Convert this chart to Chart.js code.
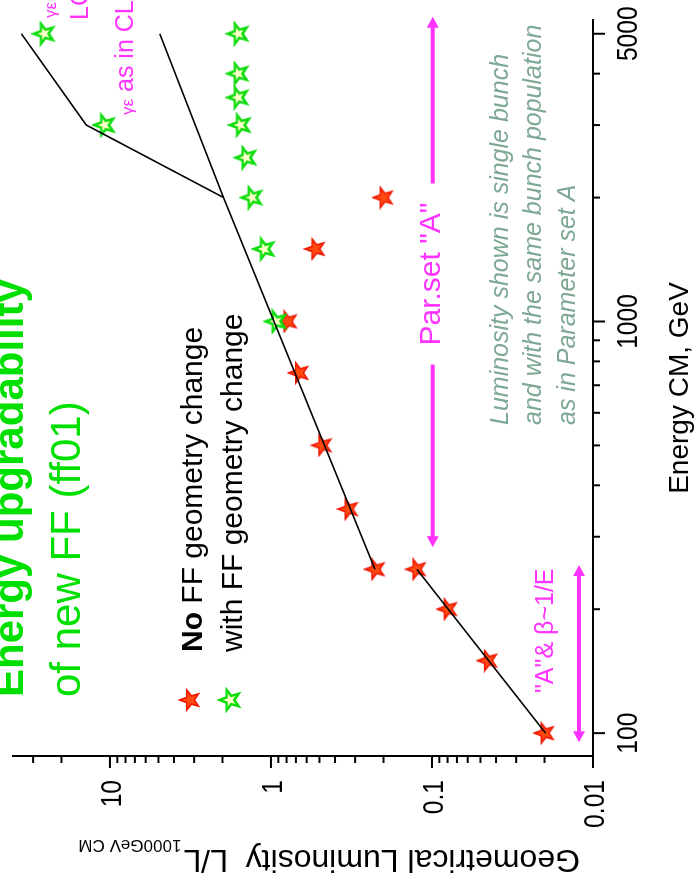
<!DOCTYPE html>
<html>
<head>
<meta charset="utf-8">
<script src="https://cdn.jsdelivr.net/npm/chart.js@4.4.1/dist/chart.umd.min.js"></script>
<style>
  html, body { margin: 0; padding: 0; background: #fff; overflow: hidden; width: 696px; height: 884px; }
  /* the plot is laid out landscape and turned a quarter turn counter-clockwise */
  #turn { position: absolute; left: 0; top: 0; width: 884px; height: 696px;
          transform-origin: 0 0; transform: translate(0, 884px) rotate(-90deg); }
  canvas { display: block; }
</style>
</head>
<body>
<div id="turn"><canvas id="c" width="884" height="696"></canvas></div>
<script>
// --- data: geometrical luminosity normalised to 1000 GeV CM ---
const energyNoFF   = [100, 150, 200, 250, 250, 350, 500, 750, 1000, 1500, 2000];
const lumNoFF      = [0.020, 0.045, 0.080, 0.125, 0.225, 0.33, 0.48, 0.67, 0.79, 0.53, 0.20];

const energyWithFF = [1000, 1500, 2000, 2500, 3000, 3500, 4000, 5000, 3000, 5000];
const lumWithFF    = [0.93, 1.10, 1.31, 1.43, 1.55, 1.60, 1.60, 1.60, 10.8, 25.6];

// scaling lines
const energyBetaScaling = [100, 250];
const lumBetaScaling    = [0.0197, 0.124];
const energyParSetA     = [250, 2000, 5000];
const lumParSetA        = [0.226, 1.97, 4.9];
const energyClicEmit    = [2000, 3000, 5000];
const lumClicEmit       = [1.97, 14.0, 35.5];

// energy ranges marked by the double arrows
const rangeBeta    = [95, 256];
const rangeParSetA = [283, 5500];

// axes
const energyTickLabels = [100, 1000, 5000];
const energyMinorTicks = [200, 300, 400, 500, 600, 700, 800, 900, 2000, 3000, 4000];
const lumTickValues    = [0.01, 0.1, 1, 10];
const lumTickLabels    = ['0.01', '0.1', '1', '10'];
const lumMinorTicks    = [0.02, 0.03, 0.04, 0.05, 0.06, 0.07, 0.08, 0.09,
                          0.2, 0.3, 0.4, 0.5, 0.6, 0.7, 0.8, 0.9,
                          2, 3, 4, 5, 6, 7, 8, 9, 20, 30];

const FONT = '"Liberation Sans", Arial, Helvetica, sans-serif';
const PINK = '#ff33ff';
const GREEN = '#00e000';
const NOTE = '#7fa894';

function pairs(xs, ys) { return xs.map((v, i) => ({ x: v, y: ys[i] })); }

function makeStar(size, fill, stroke, lw) {
  const c = document.createElement('canvas');
  c.width = size; c.height = size;
  const g = c.getContext('2d');
  const R = size / 2 - lw, r = R * 0.42, m = size / 2;
  g.beginPath();
  for (let i = 0; i < 10; i++) {
    const a = -Math.PI / 2 + i * Math.PI / 5;
    const rr = i % 2 ? r : R;
    g.lineTo(m + rr * Math.cos(a), m + rr * Math.sin(a));
  }
  g.closePath();
  g.fillStyle = fill; g.fill();
  g.lineWidth = lw; g.strokeStyle = stroke; g.lineJoin = 'miter'; g.stroke();
  return c;
}
const redStar = makeStar(24, '#ff4a10', '#ee1500', 1.6);
const greenStar = makeStar(26, '#ffffc8', '#10dd10', 2.6);

function narrowText(ctx, txt, px, py, align, font, sx) {
  ctx.save();
  ctx.translate(px, py);
  ctx.scale(sx, 1);
  ctx.font = font;
  ctx.textAlign = align;
  ctx.textBaseline = 'alphabetic';
  ctx.fillText(txt, 0, 0);
  ctx.restore();
}

function hArrow(ctx, x1, x2, yy, color) {
  const head = 10, half = 6;
  ctx.save();
  ctx.strokeStyle = color; ctx.fillStyle = color; ctx.lineWidth = 4;
  ctx.beginPath(); ctx.moveTo(x1 + head - 1, yy); ctx.lineTo(x2 - head + 1, yy); ctx.stroke();
  ctx.restore();
}
function arrowHead(ctx, xTip, yy, dir, color) {
  const head = 11, half = 6;
  ctx.save();
  ctx.fillStyle = color;
  ctx.beginPath();
  ctx.moveTo(xTip, yy);
  ctx.lineTo(xTip - dir * head, yy - half);
  ctx.lineTo(xTip - dir * head, yy + half);
  ctx.closePath(); ctx.fill();
  ctx.restore();
}

const decorations = {
  id: 'decorations',
  afterDraw(chart) {
    const { ctx, chartArea: a, scales: { x, y } } = chart;
    ctx.save();

    // tick marks
    ctx.strokeStyle = '#000'; ctx.lineWidth = 2;
    const tick = (x1, y1, x2, y2) => { ctx.beginPath(); ctx.moveTo(x1, y1); ctx.lineTo(x2, y2); ctx.stroke(); };
    energyTickLabels.forEach(v => { const p = x.getPixelForValue(v); tick(p, a.bottom, p, a.bottom + 12); });
    energyMinorTicks.forEach(v => { const p = x.getPixelForValue(v); tick(p, a.bottom, p, a.bottom + 7); });
    lumTickValues.forEach(v => { const p = y.getPixelForValue(v); tick(a.left, p, a.left - 12, p); });
    lumMinorTicks.forEach(v => { const p = y.getPixelForValue(v); tick(a.left, p, a.left - 7, p); });

    // tick labels (condensed)
    ctx.fillStyle = '#000';
    energyTickLabels.forEach(v => {
      narrowText(ctx, String(v), x.getPixelForValue(v), a.bottom + 44, 'center', '30px ' + FONT, 0.82);
    });
    lumTickValues.forEach((v, i) => {
      narrowText(ctx, lumTickLabels[i], a.left - 24, y.getPixelForValue(v) + 11, 'right', '30px ' + FONT, 0.82);
    });

    // axis titles
    ctx.fillStyle = '#000';
    ctx.font = '28px ' + FONT;
    ctx.textAlign = 'center';
    ctx.fillText('Energy CM, GeV', (a.left + a.right) / 2, 688);

    ctx.save();
    ctx.translate(34, 580);
    ctx.rotate(-Math.PI / 2);
    ctx.textAlign = 'left';
    ctx.font = '32px ' + FONT;
    const main = 'Geometrical Luminosity  L/L';
    ctx.fillText(main, 0, 0);
    const w = ctx.measureText(main).width;
    ctx.font = '17px ' + FONT;
    ctx.fillText('1000GeV CM', w + 2, 10);
    ctx.restore();

    // plot title
    ctx.fillStyle = GREEN;
    ctx.textAlign = 'left';
    ctx.font = 'bold 42px ' + FONT;
    ctx.fillText('Energy upgradability', 187, 23);
    ctx.font = '42px ' + FONT;
    ctx.fillText('of new FF (ff01)', 187, 80);

    // legend
    ctx.drawImage(redStar, 184 - redStar.width / 2, 190 - redStar.height / 2);
    ctx.drawImage(greenStar, 184 - greenStar.width / 2, 230 - greenStar.height / 2);
    ctx.fillStyle = '#000';
    ctx.font = 'bold 30px ' + FONT;
    ctx.fillText('No', 232, 202);
    const wNo = ctx.measureText('No').width;
    ctx.font = '30px ' + FONT;
    ctx.fillText(' FF geometry change', 232 + wNo, 202);
    ctx.fillText('with FF geometry change', 232, 242);

    // double arrows for the parameter regimes
    const yBeta = y.getPixelForValue(0.0122);
    const xb1 = x.getPixelForValue(rangeBeta[0]), xb2 = x.getPixelForValue(rangeBeta[1]);
    hArrow(ctx, xb1, xb2, yBeta, PINK);
    arrowHead(ctx, xb1, yBeta, -1, PINK); arrowHead(ctx, xb2, yBeta, 1, PINK);
    ctx.fillStyle = PINK; ctx.font = '25px ' + FONT; ctx.textAlign = 'left';
    ctx.fillText('"A"& \u03B2~1/E', 191, 553);

    const yPar = y.getPixelForValue(0.099);
    const xp1 = x.getPixelForValue(rangeParSetA[0]), xp2 = x.getPixelForValue(rangeParSetA[1]);
    ctx.font = '30px ' + FONT; ctx.textAlign = 'center';
    const parTxt = 'Par.set "A"';
    const parMid = 610, parHalf = ctx.measureText(parTxt).width / 2 + 20;
    hArrow(ctx, xp1, parMid - parHalf + 10, yPar, PINK);
    hArrow(ctx, parMid + parHalf - 10, xp2, yPar, PINK);
    arrowHead(ctx, xp1, yPar, -1, PINK); arrowHead(ctx, xp2, yPar, 1, PINK);
    ctx.fillText(parTxt, parMid, 440);

    // emittance notes
    ctx.textAlign = 'left';
    ctx.font = '17px ' + FONT;
    ctx.fillText('\u03B3\u03B5', 769, 133);
    let wg = ctx.measureText('\u03B3\u03B5').width;
    ctx.font = '25px ' + FONT;
    ctx.fillText(' as in CLIC', 769 + wg, 133);
    ctx.font = '17px ' + FONT;
    ctx.fillText('\u03B3\u03B5', 866, 56);
    ctx.font = '25px ' + FONT;
    ctx.fillText('LC', 864, 88);

    // note on the luminosity definition
    ctx.fillStyle = NOTE;
    ctx.font = 'italic 25px ' + FONT;
    ctx.fillText('Luminosity shown is single bunch', 459, 508);
    ctx.fillText('and with the same bunch population', 459, 541);
    ctx.fillText('as in Parameter set A', 459, 575);

    ctx.restore();
  }
};

const lineStyle = { showLine: true, pointRadius: 0, borderColor: '#000', borderWidth: 1.6, fill: false, tension: 0 };

new Chart(document.getElementById('c'), {
  type: 'scatter',
  data: {
    datasets: [
      Object.assign({ label: 'beta ~ 1/E', data: pairs(energyBetaScaling, lumBetaScaling) }, lineStyle),
      Object.assign({ label: 'Par.set A', data: pairs(energyParSetA, lumParSetA) }, lineStyle),
      Object.assign({ label: 'gamma eps as in CLIC', data: pairs(energyClicEmit, lumClicEmit) }, lineStyle),
      { label: 'with FF geometry change', data: pairs(energyWithFF, lumWithFF),
        pointStyle: greenStar, pointRadius: 12, showLine: false },
      { label: 'No FF geometry change', data: pairs(energyNoFF, lumNoFF),
        pointStyle: redStar, pointRadius: 12, showLine: false }
    ]
  },
  options: {
    responsive: false,
    animation: false,
    events: [],
    layout: { padding: { top: 10, right: 20, left: 0, bottom: 0 } },
    plugins: { legend: { display: false }, tooltip: { enabled: false } },
    scales: {
      x: {
        type: 'logarithmic', position: 'bottom', min: 88, max: 5400,
        afterBuildTicks: s => { s.ticks = energyTickLabels.map(v => ({ value: v })); },
        afterFit: s => { s.height = 103; },
        ticks: { display: false },
        grid: { display: false },
        border: { display: true, color: '#000', width: 2 }
      },
      y: {
        type: 'logarithmic', position: 'left', min: 0.01, max: 40,
        afterBuildTicks: s => { s.ticks = lumTickValues.map(v => ({ value: v })); },
        afterFit: s => { s.width = 128; },
        ticks: { display: false },
        grid: { display: false },
        border: { display: true, color: '#000', width: 2 }
      }
    }
  },
  plugins: [decorations]
});
</script>
</body>
</html>
